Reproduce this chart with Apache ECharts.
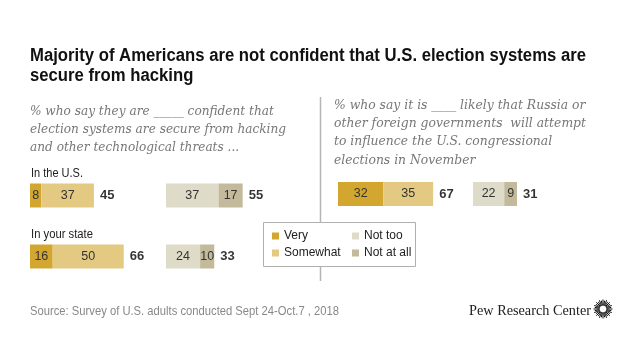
<!DOCTYPE html>
<html>
<head>
<meta charset="utf-8">
<script src="https://cdn.jsdelivr.net/npm/echarts@6/dist/echarts.min.js"></script>
<style>html,body{margin:0;padding:0;background:#fff}#c{width:640px;height:360px}</style>
</head>
<body>
<div id="c"></div>
<script>
// ---- data ----
const rowLabels = ['In the U.S.', 'In your state'];
const confVery = [8, 16];
const confSomewhat = [37, 50];
const confTotal = [45, 66];
const confNotToo = [37, 24];
const confNotAtAll = [17, 10];
const notConfTotal = [55, 33];

const likelyVery = [32];
const likelySomewhat = [35];
const likelyTotal = [67];
const likelyNotToo = [22];
const likelyNotAtAll = [9];
const notLikelyTotal = [31];

const legendNames = ['Very', 'Somewhat', 'Not too', 'Not at all'];
const colors = {'Very': '#d3a72f', 'Somewhat': '#e3c982', 'Not too': '#dedbc9', 'Not at all': '#c3ba9c'};

const SANS = "'Liberation Sans',Arial,sans-serif";
const SERIF = "'DejaVu Serif','Liberation Serif',serif";

const chart = echarts.init(document.getElementById('c'), null, {renderer: 'canvas'});

const mctx = document.createElement('canvas').getContext('2d');
function fit(text, font, target) { mctx.font = font; return target / mctx.measureText(text).width; }

function grid(left, top, height) { return {left: left, top: top, width: 142, height: height, containLabel: false}; }
function xA(i) { return {gridIndex: i, type: 'value', min: 0, max: 100, show: false}; }
function yA(i, cats) { return {gridIndex: i, type: 'category', data: cats, inverse: true, show: false}; }

function barSeries(name, gi, data, stack) {
  return {
    name: name, type: 'bar', xAxisIndex: gi, yAxisIndex: gi, stack: stack,
    data: data, barWidth: 24, itemStyle: {color: colors[name]},
    label: {show: true, position: 'inside', color: '#333', fontSize: 12.5, fontFamily: SANS},
    emphasis: {disabled: true}
  };
}
function totalSeries(gi, a, b, totals) {
  return {
    type: 'scatter', xAxisIndex: gi, yAxisIndex: gi, symbolSize: 0.1,
    data: totals.map((t, i) => [a[i] + b[i], i, t]),
    label: {show: true, position: 'right', distance: 6, formatter: p => p.value[2],
      color: '#000', fontWeight: 'bold', fontSize: 13, fontFamily: SANS},
    silent: true, emphasis: {disabled: true}
  };
}

const graphics = [];
// text with horizontal compression so it matches the reference line width
function txt(x, y, s, font, fill, lineHeight, refLine, targetW) {
  const sx = targetW ? fit(refLine, font, targetW) : 1;
  graphics.push({type: 'text', x: x, y: y, scaleX: sx, originX: 0, originY: 0, z: 10,
    style: {text: s, font: font, fill: fill, lineHeight: lineHeight, verticalAlign: 'top', align: 'left'}});
}
// title
const t1 = 'Majority of Americans are not confident that U.S. election systems are';
txt(30, 46, t1 + '\nsecure from hacking', 'bold 18px ' + SANS, '#111', 20, t1, 556);
// subtitles
const s1 = 'election systems are secure from hacking';
txt(30, 102, '% who say they are _____ confident that\n' + s1 + '\nand other technological threats ...',
  'italic 13.5px ' + SERIF, '#777', 18.2, s1, 256);
const s2 = 'other foreign governments  will attempt';
txt(334, 96, '% who say it is ____ likely that Russia or\n' + s2 + '\nto influence the U.S. congressional\nelections in November',
  'italic 13.5px ' + SERIF, '#777', 18.3, s2, 252);
// row labels
txt(31, 167, rowLabels[0], '12.5px ' + SANS, '#222', 14, rowLabels[0], 52);
txt(31, 228, rowLabels[1], '12.5px ' + SANS, '#222', 14, rowLabels[1], 62);
// footer
const src = 'Source: Survey of U.S. adults conducted Sept 24-Oct.7 , 2018';
txt(30, 305, src, '12.5px ' + SANS, '#888', 14, src, 309);
txt(469, 303, 'Pew Research Center', "14px 'Liberation Serif',serif", '#222', 16, 'Pew Research Center', 122);
// divider
graphics.push({type: 'line', shape: {x1: 320.5, y1: 97, x2: 320.5, y2: 281}, style: {stroke: '#b5b5b5', lineWidth: 1.5}, z: 1});
// legend box
graphics.push({type: 'rect', shape: {x: 263.5, y: 222.5, width: 152, height: 44}, style: {fill: '#fff', stroke: '#b0b0b0', lineWidth: 1}, z: 2});
// logo starburst
(function () {
  const cx = 603, cy = 309, n = 32;
  for (let k = 0; k < n; k++) {
    const a = k / n * Math.PI * 2;
    const r1 = 3.5, r2 = (k % 2 ? 8.5 : 9.5);
    graphics.push({type: 'line', shape: {x1: cx + r1 * Math.cos(a), y1: cy + r1 * Math.sin(a), x2: cx + r2 * Math.cos(a), y2: cy + r2 * Math.sin(a)},
      style: {stroke: '#111', lineWidth: 1}, silent: true});
  }
})();

const legendText = {fontSize: 12, color: '#222', fontFamily: SANS};
const option = {
  animation: false,
  backgroundColor: '#fff',
  grid: [grid(30, 165, 122), grid(166, 165, 122), grid(338, 164, 60), grid(473, 164, 60)],
  xAxis: [xA(0), xA(1), xA(2), xA(3)],
  yAxis: [yA(0, rowLabels), yA(1, rowLabels), yA(2, ['Russia']), yA(3, ['Russia'])],
  legend: [
    {data: ['Very', 'Somewhat'], orient: 'vertical', left: 272, top: 230, itemWidth: 7, itemHeight: 7, itemGap: 5,
      icon: 'rect', padding: 0, textStyle: legendText, z: 5, selectedMode: false},
    {data: ['Not too', 'Not at all'], orient: 'vertical', left: 352, top: 230, itemWidth: 7, itemHeight: 7, itemGap: 5,
      icon: 'rect', padding: 0, textStyle: legendText, z: 5, selectedMode: false}
  ],
  series: [
    barSeries('Very', 0, confVery, 'a'),
    barSeries('Somewhat', 0, confSomewhat, 'a'),
    totalSeries(0, confVery, confSomewhat, confTotal),
    barSeries('Not too', 1, confNotToo, 'b'),
    barSeries('Not at all', 1, confNotAtAll, 'b'),
    totalSeries(1, confNotToo, confNotAtAll, notConfTotal),
    barSeries('Very', 2, likelyVery, 'c'),
    barSeries('Somewhat', 2, likelySomewhat, 'c'),
    totalSeries(2, likelyVery, likelySomewhat, likelyTotal),
    barSeries('Not too', 3, likelyNotToo, 'd'),
    barSeries('Not at all', 3, likelyNotAtAll, 'd'),
    totalSeries(3, likelyNotToo, likelyNotAtAll, notLikelyTotal)
  ],
  graphic: graphics
};
chart.setOption(option);
</script>
</body>
</html>
